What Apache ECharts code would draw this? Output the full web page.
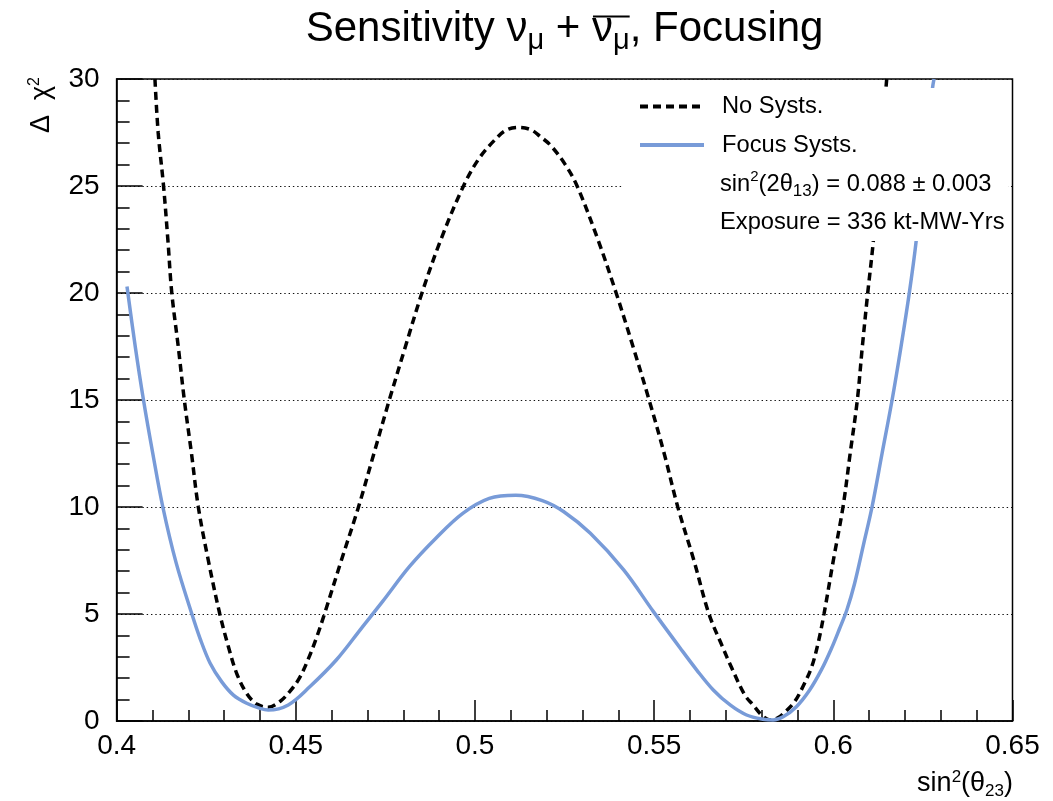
<!DOCTYPE html>
<html><head><meta charset="utf-8">
<script src="https://cdn.jsdelivr.net/npm/echarts@6/dist/echarts.min.js"></script>
<style>html,body{margin:0;padding:0;background:#fff}#c{width:1053px;height:801px}</style>
</head><body><div id="c"></div>
<script>
// ---- data ----
const noSysts = [
[0.4107,30.0],[0.4116,27.5],[0.4131,25.0],[0.4143,22.5],[0.4154,20.0],[0.4172,17.5],[0.4189,15.0],[0.4209,12.5],[0.4228,10.0],[0.4256,7.5],[0.4288,5.0],[0.4312,3.47],[0.4335,2.23],[0.4363,1.29],[0.4391,0.79],[0.4423,0.64],
[0.4455,0.9],[0.4483,1.37],[0.4510,2.0],[0.4535,2.9],[0.4558,3.9],[0.4580,5.0],[0.4627,7.5],[0.4675,10.0],[0.4718,12.5],[0.4761,15.0],[0.4806,17.5],[0.4852,20.0],[0.4905,22.5],[0.4968,25.0],[0.5012,26.3],[0.5058,27.2],[0.5086,27.6],[0.5119,27.74],[0.5156,27.63],[0.5183,27.3],[0.5211,26.9],[0.5252,26.0],
[0.5285,25.0],[0.5343,22.5],[0.5394,20.0],[0.5441,17.5],[0.5486,15.0],[0.5528,12.5],[0.5566,10.0],[0.5611,7.5],[0.5653,5.0],[0.5690,3.5],[0.5716,2.5],[0.5753,1.21],[0.5776,0.75],[0.5800,0.28],[0.5823,0.05],
[0.5845,0.15],[0.5864,0.4],[0.5892,0.9],[0.5915,1.6],[0.5939,2.5],[0.5957,3.6],[0.5974,5.0],[0.6000,7.5],[0.6027,10.0],[0.6047,12.5],[0.6067,15.0],[0.6081,17.5],[0.6096,20.0],[0.6112,22.5],[0.6147,29.6],[0.6149,30.0]
];
const focusSysts = [
[0.4029,20.3],[0.4052,17.5],[0.4075,15.0],[0.4101,12.5],[0.4129,10.0],[0.4166,7.4],[0.4210,5.0],[0.4233,3.85],[0.4261,2.7],[0.4293,1.84],[0.4326,1.21],[0.4363,0.83],[0.4400,0.59],[0.4423,0.51],
[0.4479,0.75],[0.4539,1.6],[0.4613,2.85],[0.4683,4.33],[0.4743,5.6],[0.4817,7.21],[0.4891,8.54],[0.4966,9.7],[0.5040,10.4],[0.5114,10.55],[0.5188,10.3],[0.5248,9.78],[0.5322,8.77],[0.5415,7.06],[0.5498,5.11],[0.5573,3.4],[0.5619,2.38],[0.5665,1.45],[0.5712,0.75],[0.5758,0.28],[0.5804,0.08],[0.5832,0.05],
[0.5860,0.2],[0.5897,0.67],[0.5934,1.45],[0.5967,2.4],[0.5995,3.4],[0.6017,4.3],[0.6038,5.2],[0.6059,6.4],[0.6085,8.3],[0.6108,10.0],[0.6136,12.5],[0.6164,15.0],[0.6189,17.5],[0.6212,20.0],[0.6231,22.4],[0.6277,29.6],[0.6281,30.0]
];
const seriesNames = ['No Systs.', 'Focus Systs.'];
const xRange = [0.4, 0.65, 0.05];
const yRange = [0, 30, 5];
const infoLines = ['{a|sin}{p|2}{a|(2θ}{b|13}{a|) = 0.088 ± 0.003}', 'Exposure = 336 kt-MW-Yrs'];

// ---- layout ----
const FONT = '"Liberation Sans", Arial, sans-serif';
const G = {left: 116.6, right: 40.5, top: 79, bottom: 80};
const plotCx = G.left + (1053 - G.left - G.right) / 2;
const ctx = document.createElement('canvas').getContext('2d');
function tw(s, size){ ctx.font = size + 'px "Liberation Sans"'; return ctx.measureText(s).width; }
const TF = 42, TS = 29;
const tParts = ['Sensitivity ν', ' + ', 'ν', ', Focusing'];
const W = tw(tParts[0],TF) + tw('μ',TS) + tw(tParts[1],TF) + tw(tParts[2],TF) + tw('μ',TS) + tw(tParts[3],TF);
const titleLeft = plotCx - W / 2;
const titleTop = 3;
const ox1 = titleLeft + tw(tParts[0],TF) + tw('μ',TS) + tw(tParts[1],TF);
const ox2 = ox1 + tw(tParts[2],TF) + tw('μ',TS);
const baseY = titleTop + 26 + 0.3*TF;
const LF = 23.7;

const chart = echarts.init(document.getElementById('c'), null, {renderer: 'canvas'});
chart.setOption({
  animation: false,
  backgroundColor: '#fff',
  title: {
    text: '{m|' + tParts[0] + '}{s|μ}{m|' + tParts[1] + '}{m|' + tParts[2] + '}{s|μ}{m|' + tParts[3] + '}',
    left: titleLeft, top: titleTop, padding: 0,
    textStyle: {
      fontWeight: 'normal',
      rich: {
        m: {fontFamily: FONT, fontWeight: 'normal', fontSize: TF, lineHeight: 52, color: '#000'},
        s: {fontFamily: FONT, fontWeight: 'normal', fontSize: TS, lineHeight: 28, padding: [24,0,0,0], color: '#000'}
      }
    }
  },
  grid: {left: G.left, right: G.right, top: G.top, bottom: G.bottom, show: true, borderColor: '#000', borderWidth: 1.5, backgroundColor: 'transparent'},
  legend: {
    data: seriesNames, orient: 'vertical', left: 638, top: 94.5,
    itemWidth: 64, itemHeight: 14, itemGap: 14.5, padding: 0,
    itemStyle: {opacity: 0},
    lineStyle: {width: 4},
    textStyle: {fontFamily: FONT, fontSize: LF, lineHeight: 24, color: '#000', padding: [0,0,0,13]},
    z: 6
  },
  xAxis: {
    type: 'value', min: xRange[0], max: xRange[1], interval: xRange[2],
    axisLine: {onZero: false, lineStyle: {color: '#000', width: 1.5}},
    axisTick: {inside: true, length: 21, lineStyle: {color: '#000', width: 1.5}},
    minorTick: {show: true, splitNumber: 5, length: 11, lineStyle: {color: '#000', width: 1.5}},
    splitLine: {show: false},
    axisLabel: {fontFamily: FONT, fontSize: 28, color: '#000', margin: 11}
  },
  yAxis: {
    type: 'value', min: yRange[0], max: yRange[1], interval: yRange[2],
    axisLine: {show: true, onZero: false, lineStyle: {color: '#000', width: 1.5}},
    axisTick: {show: true, inside: true, length: 26, lineStyle: {color: '#000', width: 1.5}},
    minorTick: {show: true, splitNumber: 5, length: 13, lineStyle: {color: '#000', width: 1.5}},
    splitLine: {show: true, lineStyle: {color: '#111', width: 1, type: [1.4, 2.9]}},
    axisLabel: {fontFamily: FONT, fontSize: 28, color: '#000', margin: 17}
  },
  series: [
    {name: seriesNames[0], type: 'line', data: noSysts, symbol: 'none', smooth: 0.35, z: 2,
     lineStyle: {color: '#000', width: 3.5, type: [8, 5]}, itemStyle: {color: '#000'}},
    {name: seriesNames[1], type: 'line', data: focusSysts, symbol: 'none', smooth: 0.35, z: 2,
     lineStyle: {color: '#789bd8', width: 3.5, type: 'solid'}, itemStyle: {color: '#789bd8'}}
  ],
  graphic: [
    {type: 'rect', z: 4, shape: {x: 622, y: 88, width: 386, height: 153}, style: {fill: '#fff'}},
    {type: 'line', z: 7, shape: {x1: ox1 + 1, y1: baseY - 25, x2: ox2, y2: baseY - 25}, style: {stroke: '#000', lineWidth: 2}},
    {type: 'text', z: 7, x: 720, y: 184, style: {
      text: infoLines[0], verticalAlign: 'middle', align: 'left',
      rich: {
        a: {fontFamily: FONT, fontSize: LF, lineHeight: 30, fill: '#000'},
        p: {fontFamily: FONT, fontSize: 15, lineHeight: 16, padding: [0,0,14,0], fill: '#000'},
        b: {fontFamily: FONT, fontSize: 17, lineHeight: 16, padding: [14,0,0,0], fill: '#000'}
      }}},
    {type: 'text', z: 7, x: 720, y: 222, style: {
      text: infoLines[1], verticalAlign: 'middle', align: 'left',
      font: LF + 'px ' + FONT, fill: '#000'}},
    {type: 'text', z: 7, x: 1013, y: 784, style: {
      text: '{a|sin}{p|2}{a|(θ}{b|23}{a|)}', verticalAlign: 'middle', align: 'right',
      rich: {
        a: {fontFamily: FONT, fontSize: 27, lineHeight: 30, fill: '#000'},
        p: {fontFamily: FONT, fontSize: 17, lineHeight: 16, padding: [0,0,14,0], fill: '#000'},
        b: {fontFamily: FONT, fontSize: 17, lineHeight: 16, padding: [14,0,0,0], fill: '#000'}
      }}},
    {type: 'text', z: 7, x: 42, y: 77, rotation: Math.PI/2, style: {
      text: '{a|Δ  χ}{p|2}', verticalAlign: 'middle', align: 'right',
      rich: {
        a: {fontFamily: FONT, fontSize: 27, lineHeight: 30, fill: '#000'},
        p: {fontFamily: FONT, fontSize: 16, lineHeight: 16, padding: [0,0,14,0], fill: '#000'}
      }}}
  ]
});
</script></body></html>
